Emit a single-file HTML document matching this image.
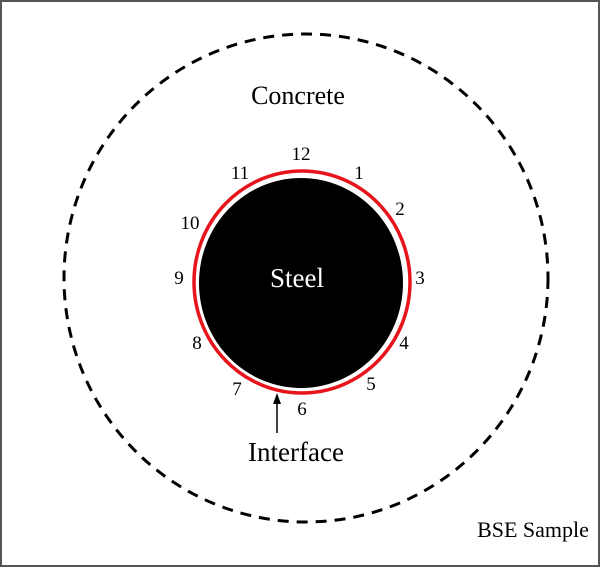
<!DOCTYPE html>
<html><head><style>
html,body{margin:0;padding:0;background:#fff;}
svg{display:block;}
text{font-family:"Liberation Serif",serif;}
</style></head><body>
<svg width="600" height="567" viewBox="0 0 600 567">
<rect x="1" y="1" width="598" height="565" fill="#fff" stroke="#555" stroke-width="2"/>
<ellipse cx="306" cy="278" rx="242" ry="244" fill="none" stroke="#000" stroke-width="3" stroke-dasharray="11 8"/>
<ellipse cx="302" cy="282" rx="108" ry="111" fill="none" stroke="#e8141b" stroke-width="3.5"/>
<ellipse cx="301" cy="283" rx="102" ry="105" fill="#000"/>
<text x="297" y="287" font-size="27" fill="#fff" text-anchor="middle">Steel</text>
<text x="298" y="104" font-size="26" text-anchor="middle">Concrete</text>
<text x="533" y="537" font-size="22" text-anchor="middle">BSE Sample</text>
<text x="296" y="461" font-size="27" text-anchor="middle">Interface</text>
<line x1="277" y1="433" x2="277" y2="402" stroke="#000" stroke-width="1.5"/>
<polygon points="277,393 273,404 281,404" fill="#000"/>
<g font-size="19" text-anchor="middle">
<text x="301" y="160">12</text>
<text x="359" y="179">1</text>
<text x="400" y="215">2</text>
<text x="420" y="284">3</text>
<text x="404" y="349">4</text>
<text x="371" y="390">5</text>
<text x="302" y="415">6</text>
<text x="237" y="395">7</text>
<text x="197" y="349">8</text>
<text x="179" y="284">9</text>
<text x="190" y="229">10</text>
<text x="240" y="179">11</text>
</g>
</svg>
</body></html>
